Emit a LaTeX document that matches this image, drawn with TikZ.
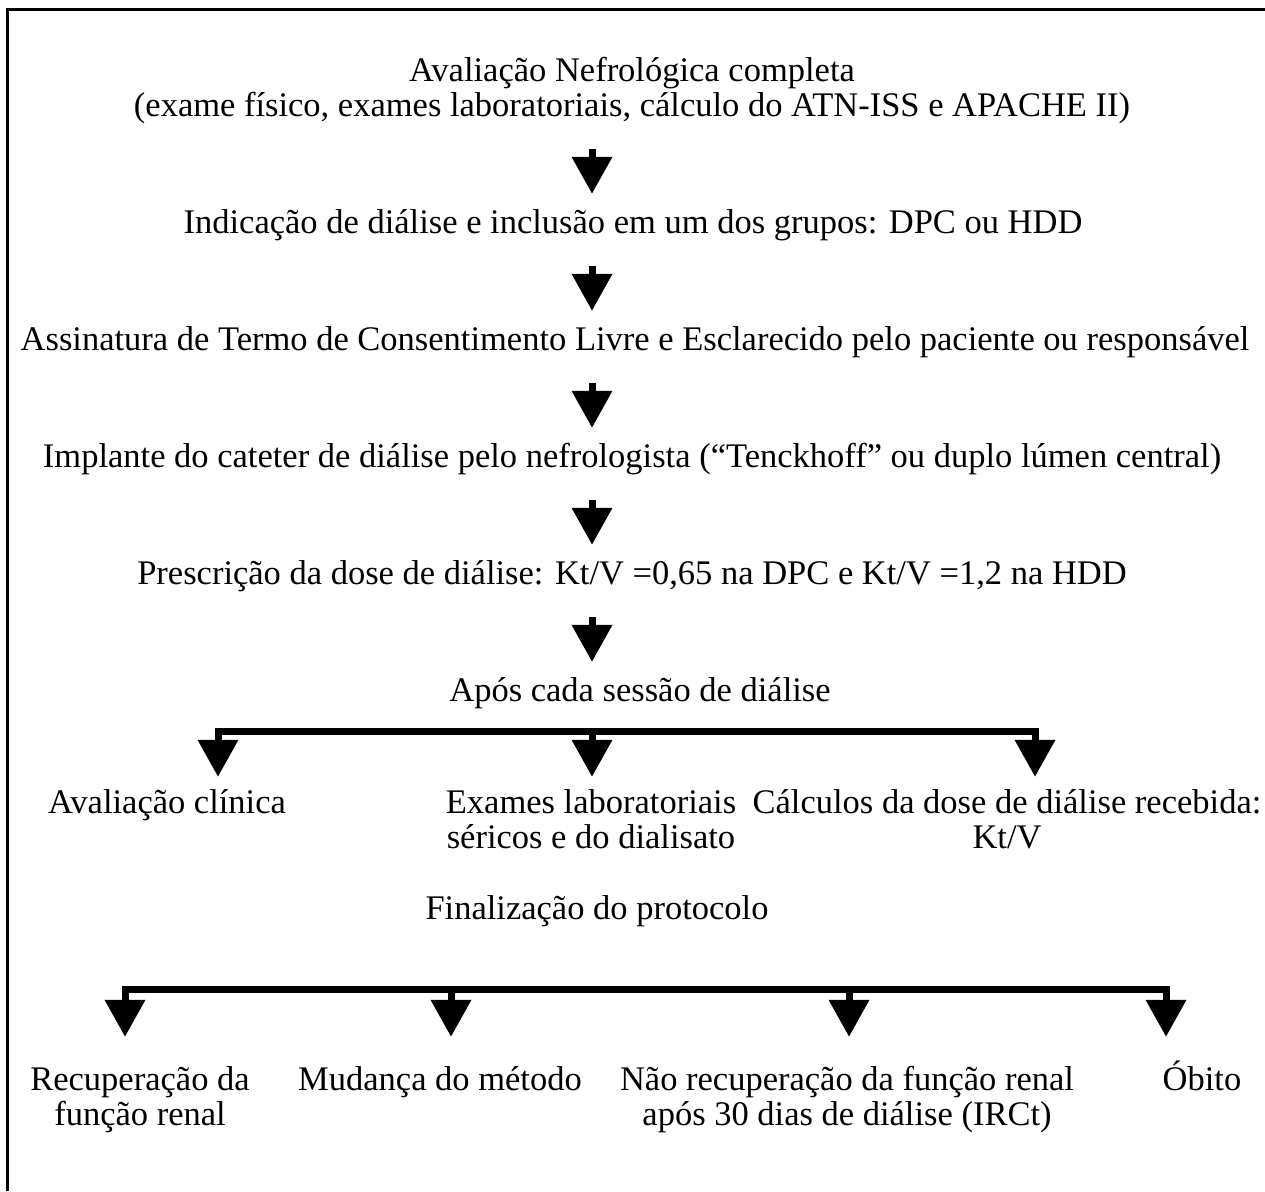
\documentclass[tikz,border=0pt]{standalone}
\usepackage{fontspec}
\setmainfont{Liberation Serif}
\usetikzlibrary{arrows.meta, positioning}

\tikzset{
  texto/.style={inner sep=0pt, align=center, font=\fontsize{34.5}{35}\selectfont,
    text height=23pt, text depth=8pt},
  texto2/.style={texto, text height=58pt},
  seta/.style={line width=7pt, -{Triangle[width=39pt,length=37pt]}, shorten >=16pt, shorten <=25pt},
  ramo/.style={line width=7pt, -{Triangle[width=39pt,length=37pt]}},
  barra/.style={line width=7pt, line cap=rect},
  moldura/.style={line width=3pt}
}

\begin{document}
\begin{tikzpicture}[x=1pt, y=-1pt]
        \useasboundingbox (0,0) rectangle (1265,1191);
        \draw[moldura] (7,1191) -- (7,9) -- (1265,9);

        % fluxo principal
        \node[texto2] (aval) at (632,91) {Avaliação Nefrológica completa\\(exame físico, exames laboratoriais, cálculo do ATN-ISS e APACHE II)};
        \node[texto] (indic) at (633,225.5) {Indicação de diálise e inclusão em um dos grupos: DPC ou HDD};
        \node[texto] (assin) at (635,342.5) {Assinatura de Termo de Consentimento Livre e Esclarecido pelo paciente ou responsável};
        \node[texto] (impl) at (632,459.5) {Implante do cateter de diálise pelo nefrologista (“Tenckhoff” ou duplo lúmen central)};
        \node[texto] (presc) at (632,576.5) {Prescrição da dose de diálise: Kt/V =0,65 na DPC e Kt/V =1,2 na HDD};
        \node[texto] (apos) at (640,693.5) {Após cada sessão de diálise};

        \coordinate (eixo) at (592,0);
        \draw[seta] (aval.south -| eixo) -- (indic.north -| eixo);
        \draw[seta] (indic.south -| eixo) -- (assin.north -| eixo);
        \draw[seta] (assin.south -| eixo) -- (impl.north -| eixo);
        \draw[seta] (impl.south -| eixo) -- (presc.north -| eixo);
        \draw[seta] (presc.south -| eixo) -- (apos.north -| eixo);

        % após cada sessão
        \node[texto] (clin) at (167,805.5) {Avaliação clínica};
        \node[texto2] (exam) at (591,823) {Exames laboratoriais\\séricos e do dialisato};
        \node[texto2] (calc) at (1007,823) {Cálculos da dose de diálise recebida:\\Kt/V};
        \coordinate (b1) at (218,731);
        \coordinate (b2) at (592,731);
        \coordinate (b3) at (1035,731);
        \draw[barra] (b1) -- (b3);
        \draw[ramo, shorten >=13pt] (b1) -- (clin.north -| b1);
        \draw[ramo, shorten >=13pt] (b2) -- (exam.north -| b2);
        \draw[ramo, shorten >=13pt] (b3) -- (calc.north -| b3);

        % finalização
        \node[texto] (final) at (597,912) {Finalização do protocolo};
        \node[texto2] (recup) at (140,1100) {Recuperação da\\função renal};
        \node[texto] (mud) at (440,1082.5) {Mudança do método};
        \node[texto2] (nrec) at (847,1100) {Não recuperação da função renal\\após 30 dias de diálise (IRCt)};
        \node[texto] (obito) at (1202,1082.5) {Óbito};
        \coordinate (f1) at (125,989);
        \coordinate (f2) at (451,989);
        \coordinate (f3) at (849,989);
        \coordinate (f4) at (1166,989);
        \draw[barra] (f1) -- (f4);
        \draw[ramo, shorten >=30pt] (f1) -- (recup.north -| f1);
        \draw[ramo, shorten >=30pt] (f2) -- (mud.north -| f2);
        \draw[ramo, shorten >=30pt] (f3) -- (nrec.north -| f3);
        \draw[ramo, shorten >=30pt] (f4) -- (obito.north -| f4);
\end{tikzpicture}
\end{document}
